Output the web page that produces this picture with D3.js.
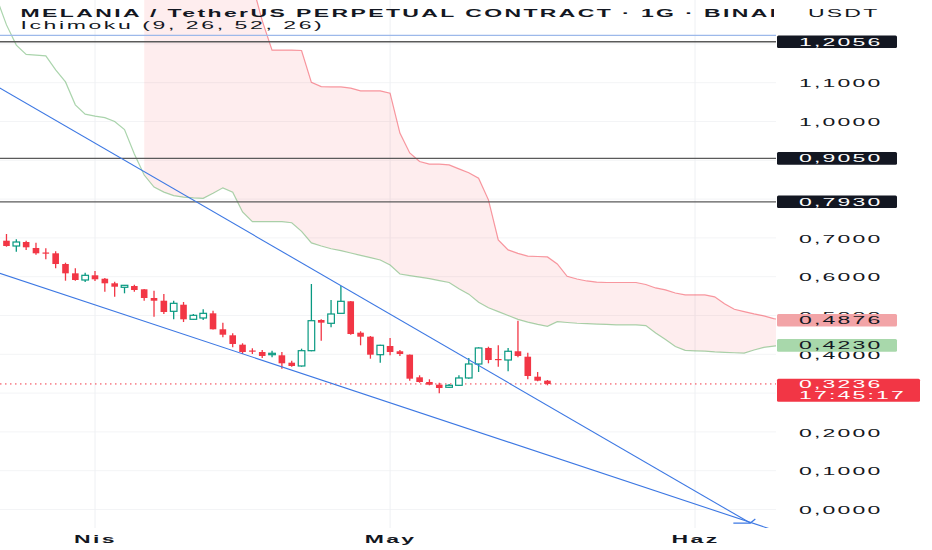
<!DOCTYPE html>
<html>
<head>
<meta charset="utf-8">
<script src="https://cdn.jsdelivr.net/npm/d3@7"></script>
<style>
  html, body { margin: 0; padding: 0; background: #fff; }
  svg { display: block; font-family: "Liberation Sans", Arial, sans-serif; }
</style>
</head>
<body>
<svg id="chart" width="932" height="550"></svg>
<script>
// Daily candles, MELANIAUSDT perp, first candle on 22 March
const candleStart = "2025-03-22";
const opens  = [0.7075,0.6928,0.6791,0.6894,0.6740,0.6624,0.6603,0.6327,0.6087,0.5915,
                0.6036,0.5948,0.5830,0.5727,0.5760,0.5675,0.5451,0.5381,0.5108,0.5278,
                0.4902,0.4936,0.5056,0.4645,0.4490,0.4248,0.4098,0.4059,0.3990,0.3974,
                0.3784,0.3699,0.4093,0.4884,0.4799,0.5056,0.5366,0.4557,0.4454,0.3990,
                0.4214,0.4078,0.3990,0.3407,0.3286,0.3217,0.3150,0.3201,0.3390,0.3750,
                0.4163,0.3879,0.3853,0.4078,0.3938,0.3423,0.3320];
const highs  = [0.7127,0.7101,0.6964,0.6928,0.6876,0.6732,0.6655,0.6361,0.6216,0.6103,
                0.6147,0.5966,0.5871,0.5786,0.5794,0.5683,0.5640,0.5554,0.5381,0.5348,
                0.5039,0.5160,0.5123,0.4815,0.4541,0.4284,0.4155,0.4111,0.4093,0.4059,
                0.3836,0.4145,0.5812,0.4902,0.5399,0.5760,0.5374,0.4593,0.4472,0.4248,
                0.4420,0.4111,0.3995,0.3459,0.3356,0.3268,0.3235,0.3459,0.3905,0.4181,
                0.4196,0.4232,0.4163,0.4866,0.4041,0.3544,0.3338];
const lows   = [0.6894,0.6773,0.6644,0.6688,0.6567,0.6448,0.6216,0.5897,0.5897,0.5863,
                0.5889,0.5614,0.5485,0.5572,0.5614,0.5381,0.4969,0.5039,0.4902,0.4833,
                0.4884,0.4884,0.4640,0.4439,0.4181,0.4008,0.4008,0.3905,0.3923,0.3629,
                0.3681,0.3681,0.4078,0.4351,0.4696,0.5056,0.4505,0.4232,0.3887,0.3784,
                0.3974,0.3957,0.3320,0.3268,0.3201,0.2995,0.3131,0.3183,0.3372,0.3544,
                0.3768,0.3681,0.3562,0.3923,0.3356,0.3305,0.3201];
const closes = [0.6946,0.6791,0.6894,0.6758,0.6603,0.6611,0.6327,0.6087,0.5915,0.6036,
                0.5933,0.5830,0.5742,0.5778,0.5657,0.5451,0.5381,0.5090,0.5314,0.4902,
                0.5005,0.5056,0.4645,0.4505,0.4266,0.4059,0.4078,0.3957,0.4026,0.3768,
                0.3699,0.4093,0.4866,0.4815,0.5039,0.5366,0.4523,0.4454,0.3990,0.4232,
                0.4059,0.4008,0.3372,0.3286,0.3217,0.3131,0.3201,0.3390,0.3750,0.4163,
                0.3853,0.3866,0.4078,0.3957,0.3441,0.3320,0.3236];

// Ichimoku leading spans, daily from 21 March (shifted forward)
const spanStart = "2025-03-21";
const spanA = [1.390,1.318,1.249,1.197,1.173,1.171,1.169,1.133,1.102,1.043,
               1.019,1.014,1.010,1.000,0.979,0.916,0.862,0.831,0.818,0.809,
               0.805,0.803,0.802,0.815,0.829,0.818,0.767,0.742,0.742,0.742,
               0.742,0.739,0.717,0.687,0.679,0.672,0.667,0.661,0.655,0.649,
               0.643,0.630,0.607,0.603,0.599,0.595,0.590,0.585,0.569,0.555,
               0.534,0.520,0.510,0.500,0.490,0.483,0.477,0.472,0.484,0.482,
               0.480,0.479,0.478,0.477,0.476,0.476,0.476,0.474,0.455,0.438,
               0.420,0.410,0.409,0.408,0.406,0.405,0.404,0.403,0.411,0.418,
               0.421,0.423];
const spanB = [null,null,null,null,null,null,null,null,null,null,
               null,null,null,null,null,null,1.420,1.420,1.420,1.420,
               1.420,1.420,1.420,1.420,1.420,1.420,1.420,1.354,1.260,1.184,
               1.184,1.184,1.183,1.101,1.090,1.089,1.089,1.086,1.079,1.079,
               1.079,1.073,0.970,0.919,0.897,0.890,0.890,0.888,0.878,0.868,
               0.854,0.798,0.695,0.669,0.660,0.653,0.652,0.651,0.633,0.601,
               0.594,0.589,0.586,0.585,0.585,0.585,0.585,0.580,0.571,0.566,
               0.558,0.553,0.553,0.553,0.548,0.530,0.516,0.510,0.504,0.499,
               0.492,0.4876];

// drawings
const levels = [1.2056, 0.9050, 0.7930];
const blueRay = 1.2222;
const upperTrend = [["2025-03-21T00:00:00Z", 1.106], ["2025-06-06T15:00:00Z", -0.035]];
const lowerTrend = [["2025-03-21T00:00:00Z", 0.620], ["2025-06-08T15:00:00Z", -0.050]];

// axes: grid every 0.1, labels only where the boxes leave them visible
const priceTicks = [0, 0.1, 0.2, 0.3, 0.4, 0.5, 0.6, 0.7, 0.8, 0.9, 1.0, 1.1, 1.2];
const priceLabels = [0, 0.1, 0.2, 0.4, 0.5, 0.6, 0.7, 1.0, 1.1];
const monthTicks = ["2025-04-01", "2025-05-01", "2025-06-01"];
const monthLabels = ["Nis", "May", "Haz"];
const lastPrice = 0.3236, countdown = "17:45:17";
const spanALast = 0.4230, spanBLast = 0.4876;
const title = "MELANIA / TetherUS PERPETUAL CONTRACT · 1G · BINANCE";
const subtitle = "Ichimoku (9, 26, 52, 26)";

const UP = "#089981", DOWN = "#f23645", INK = "#131722";
const SX = 2; // the screenshot is stretched wide, so text is too

const plotW = 776, plotH = 528;
const svg = d3.select("#chart");
const defs = svg.append("defs");
defs.append("clipPath").attr("id", "plot").append("rect")
  .attr("width", plotW).attr("height", plotH);
defs.append("clipPath").attr("id", "titleclip").append("rect")
  .attr("width", 774).attr("height", 40);
defs.append("marker").attr("id", "arr")
  .attr("markerUnits", "userSpaceOnUse").attr("orient", "auto")
  .attr("viewBox", "-20 -10 30 20").attr("markerWidth", 30).attr("markerHeight", 20)
  .attr("refX", 0).attr("refY", 0)
  .append("path").attr("d", "M-14.7,8.5L0,0L2.3,-6")
  .attr("fill", "none").attr("stroke", "#3d78e3").attr("stroke-width", 1.2);

const utc = s => new Date(s.length > 10 ? s : s + "T00:00:00Z");
const x = d3.scaleUtc().domain([utc("2025-04-01"), utc("2025-06-01")]).range([95, 695]);
const y = d3.scaleLinear().domain([0, 1]).range([509.5, 121.5]);
const fmt = d3.formatLocale({decimal: ",", thousands: ".", grouping: [3], currency: ["", ""]}).format(".4f");

const candles = opens.map((o, i) => ({
  date: d3.utcDay.offset(utc(candleStart), i),
  o, h: highs[i], l: lows[i], c: closes[i]
}));
const spans = spanA.map((a, i) => ({
  date: d3.utcDay.offset(utc(spanStart), i), a, b: spanB[i]
}));

// grid
const grid = svg.append("g");
grid.selectAll("line.h").data(priceTicks).join("line")
  .attr("x1", 0).attr("x2", plotW).attr("y1", d => y(d)).attr("y2", d => y(d))
  .attr("stroke", "#f3f4f6").attr("stroke-width", 1);
grid.selectAll("line.v").data(monthTicks).join("line")
  .attr("x1", d => x(utc(d))).attr("x2", d => x(utc(d)))
  .attr("y1", 0).attr("y2", plotH)
  .attr("stroke", "#eef0f3").attr("stroke-width", 1);

const plot = svg.append("g").attr("clip-path", "url(#plot)");

// cloud
plot.append("path").datum(spans)
  .attr("d", d3.area().defined(d => d.b != null)
    .x(d => x(d.date)).y0(d => y(d.a)).y1(d => y(d.b)))
  .attr("fill", "rgba(242,54,69,0.09)");
plot.append("path").datum(spans)
  .attr("d", d3.line().x(d => x(d.date)).y(d => y(d.a)))
  .attr("fill", "none").attr("stroke", "rgba(67,160,71,0.45)").attr("stroke-width", 1.2);
plot.append("path").datum(spans)
  .attr("d", d3.line().defined(d => d.b != null).x(d => x(d.date)).y(d => y(d.b)))
  .attr("fill", "none").attr("stroke", "rgba(242,54,69,0.5)").attr("stroke-width", 1.2);

// horizontal drawings
plot.append("line")
  .attr("x1", 0).attr("x2", plotW).attr("y1", y(blueRay)).attr("y2", y(blueRay))
  .attr("stroke", "#9db9ea").attr("stroke-width", 1.2);
plot.selectAll("line.level").data(levels).join("line")
  .attr("x1", 0).attr("x2", plotW).attr("y1", d => y(d)).attr("y2", d => y(d))
  .attr("stroke", "#5a5a5a").attr("stroke-width", 1.3);

// current price dotted line
plot.append("line")
  .attr("x1", 0).attr("x2", plotW).attr("y1", y(lastPrice)).attr("y2", y(lastPrice))
  .attr("stroke", DOWN).attr("stroke-width", 1).attr("stroke-dasharray", "1.5,3.5");

// candles
const bw = 6.6;
const cg = plot.selectAll("g.candle").data(candles).join("g");
cg.append("line")
  .attr("x1", d => x(d.date)).attr("x2", d => x(d.date))
  .attr("y1", d => y(d.h)).attr("y2", d => y(d.l))
  .attr("stroke", d => d.c >= d.o ? UP : DOWN).attr("stroke-width", 1.3);
cg.append("rect")
  .attr("x", d => x(d.date) - bw / 2)
  .attr("y", d => y(Math.max(d.o, d.c)))
  .attr("width", bw)
  .attr("height", d => Math.max(1.2, Math.abs(y(d.o) - y(d.c))))
  .attr("fill", d => d.c >= d.o ? "#fff" : DOWN)
  .attr("stroke", d => d.c >= d.o ? UP : "none")
  .attr("stroke-width", 1.2);

// trend lines
const tl = d3.line().x(d => x(utc(d[0]))).y(d => y(d[1]));
plot.append("path").attr("d", tl(lowerTrend))
  .attr("fill", "none").attr("stroke", "#3d78e3").attr("stroke-width", 1.1);
plot.append("path").attr("d", tl(upperTrend))
  .attr("fill", "none").attr("stroke", "#3d78e3").attr("stroke-width", 1.1)
  .attr("marker-end", "url(#arr)");

// wide text helper
function wide(sel, px, py, str, o = {}) {
  return sel.append("text")
    .attr("transform", `translate(${px},${py}) scale(${SX},1)`)
    .attr("font-size", o.size || 11.5)
    .attr("font-weight", o.bold ? "bold" : "normal")
    .attr("letter-spacing", o.ls == null ? 1.1 : o.ls)
    .attr("text-anchor", o.anchor || "start")
    .attr("fill", o.fill || INK)
    .text(str);
}

// price axis
const ya = svg.append("g").attr("transform", "translate(799,0)")
  .call(d3.axisRight(y).tickValues(priceLabels).tickFormat(fmt).tickSize(0).tickPadding(0));
ya.select(".domain").remove();
ya.selectAll("text")
  .attr("x", 0).attr("dy", "0.36em")
  .attr("transform", `scale(${SX},1)`)
  .attr("font-size", 11.5).attr("letter-spacing", 1.1)
  .attr("font-family", "Liberation Sans, Arial, sans-serif")
  .attr("fill", INK);

// time axis
const xa = svg.append("g").attr("transform", "translate(0,543)")
  .call(d3.axisBottom(x).tickValues(monthTicks.map(utc))
    .tickFormat((d, i) => monthLabels[i]).tickSize(0).tickPadding(0));
xa.select(".domain").remove();
xa.selectAll("text")
  .attr("y", 0).attr("dy", 0).attr("x", 0)
  .attr("transform", `scale(${SX},1)`)
  .attr("font-size", 11.5).attr("font-weight", "bold").attr("letter-spacing", 1.2)
  .attr("font-family", "Liberation Sans, Arial, sans-serif")
  .attr("fill", INK);

// price labels on the axis
const lab = svg.append("g");
function boxLabel(val, bg, fg) {
  lab.append("rect").attr("x", 777).attr("y", y(val) - 6.3)
    .attr("width", 120).attr("height", 12.6).attr("rx", 1.5).attr("fill", bg);
  wide(lab, 799, y(val) + 4.1, fmt(val), {fill: fg});
}
levels.forEach(v => boxLabel(v, INK, "#fff"));
boxLabel(spanBLast, "#f2a4a7", INK);
boxLabel(spanALast, "#a8d8ab", INK);

lab.append("rect").attr("x", 777).attr("y", y(lastPrice) - 5.2)
  .attr("width", 143).attr("height", 23).attr("rx", 1.5).attr("fill", DOWN);
wide(lab, 799, y(lastPrice) + 3.6, fmt(lastPrice), {fill: "#fff"});
wide(lab, 799, y(lastPrice) + 15.2, countdown, {fill: "#fff"});

wide(svg, 808, 17, "USDT", {});

// legend
const lg = svg.append("g").attr("clip-path", "url(#titleclip)");
wide(lg, 20.5, 17, title, {bold: true, ls: 1.2});
wide(lg, 20.5, 29, subtitle, {ls: 1.3});
</script>
</body>
</html>
